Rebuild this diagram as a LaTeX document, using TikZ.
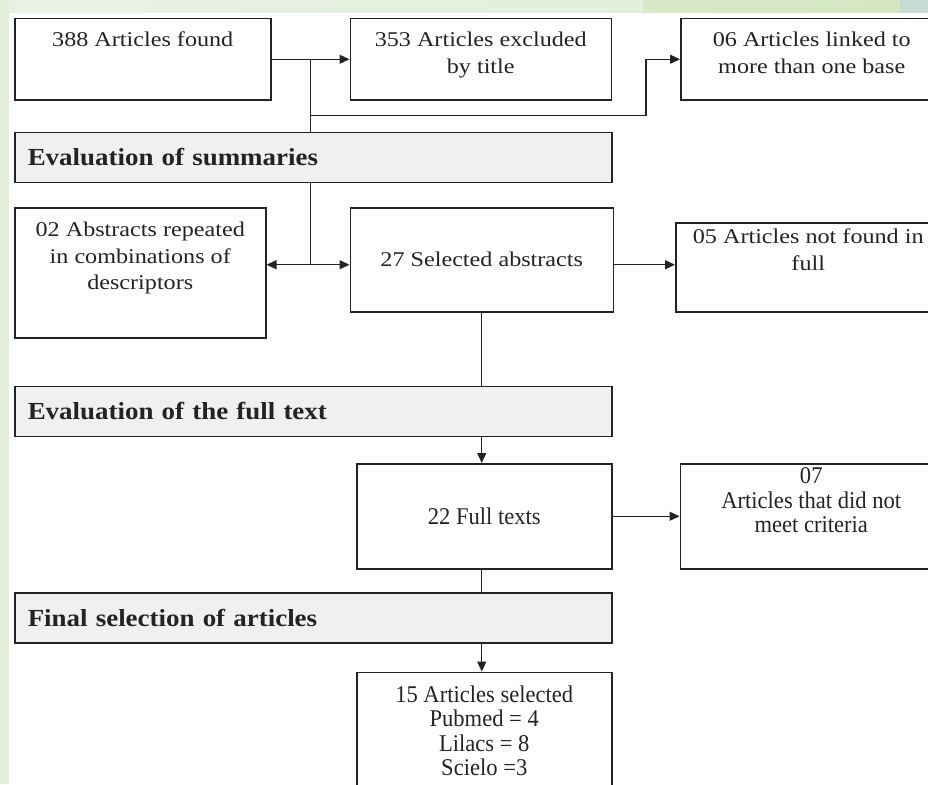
\documentclass[tikz,border=0pt]{standalone}
\usepackage{fontspec}
\setmainfont{Liberation Serif}
\newfontfamily\boxfont[FakeStretch=1.15]{Liberation Serif}
\newfontfamily\barfont[FakeStretch=1.1]{Liberation Serif}
\newfontfamily\lowfont[FakeStretch=0.94]{Liberation Serif}
\usepackage{tikz}
\usetikzlibrary{arrows.meta, positioning, calc}

\definecolor{bgleft}{RGB}{228,239,220}
\definecolor{bgtop}{RGB}{233,241,227}
\definecolor{topgreen}{RGB}{212,231,194}
\definecolor{topblue}{RGB}{197,219,212}
\definecolor{barfill}{RGB}{240,240,240}
\definecolor{linec}{RGB}{35,35,35}

% text sitting at the top of a box: width, height, first baseline, lines
\newcommand{\toptext}[4]{\parbox[c][#2][t]{#1}{\centering\rule{0pt}{#3}#4}}

\begin{document}
\begin{tikzpicture}[
    x=1pt, y=-1pt,
    color=linec, line width=1.3pt,
    >={Triangle[length=10pt,width=9pt]},
    box/.style={rectangle, draw, line width=1.5pt, inner sep=0pt,
        font=\boxfont\fontsize{21pt}{26.5pt}\selectfont},
    lowbox/.style={rectangle, draw, line width=1.5pt, inner sep=0pt,
        font=\lowfont\fontsize{24pt}{24.5pt}\selectfont},
    bar/.style={rectangle, draw, line width=1.5pt, fill=barfill,
        minimum width=597pt, minimum height=50pt, text width=571pt,
        inner xsep=13pt, align=left,
        font=\barfont\bfseries\fontsize{24.5pt}{28pt}\selectfont}
]
\useasboundingbox (0,0) rectangle (928,784);
% Background
\fill[bgleft] (0,0) rectangle (9,784);
\shade[left color=bgtop, right color=bgleft] (9,0) rectangle (643,13);
\shade[left color=topgreen!80!bgtop, right color=topgreen] (643,0) rectangle (900,13);
\fill[topblue] (900,0) rectangle (928,13);

% Nodes
\node [box, anchor=north west] (found) at (14,18) {\toptext{256pt}{81pt}{28pt}{388 Articles found}};
\node [box, right=78pt of found] (excl) {\toptext{261pt}{81pt}{28pt}{353 Articles excluded\\by title}};
\node [box, right=68pt of excl] (linked) {\toptext{262pt}{81pt}{28pt}{06 Articles linked to\\more than one base}};
\node [bar, below=31pt of found.south west, anchor=north west] (summ) {Evaluation of summaries};
\node [box, below=24pt of summ.south west, anchor=north west] (repeat) {\toptext{251pt}{130pt}{29pt}{02 Abstracts repeated\\in combinations of\\descriptors}};
\node [box, right=83pt of repeat.north east, anchor=north west, minimum width=263pt, minimum height=104pt] (abstr) {27 Selected abstracts};
\node [box, right=61pt of abstr.south east, anchor=south west] (notfound) {\toptext{265pt}{89pt}{21pt}{05 Articles not found in\\full}};
\node [bar, below=47pt of repeat.south west, anchor=north west] (fulleval) {Evaluation of the full text};
\node [lowbox, below=26pt of fulleval.south east, anchor=north east, minimum width=255pt, minimum height=105pt] (fulltext) {22 Full texts};
\node [lowbox, right=67pt of fulltext] (unmet) {\toptext{262pt}{105pt}{20pt}{07\\Articles that did not\\meet criteria}};
\node [bar, below=155pt of fulleval.south west, anchor=north west] (finalsel) {Final selection of articles};
\node [lowbox, below=28pt of finalsel.south east, anchor=north east] (selected) {\toptext{255pt}{135pt}{30pt}{15 Articles selected\\Pubmed = 4\\Lilacs = 8\\Scielo =3}};

\coordinate (fork1) at ($(found.east)!0.5!(excl.west)$);
\coordinate (turn) at ($(excl.south east)!0.5!(linked.south west) + (0,15)$);
\coordinate (fork2) at ([yshift=-5pt]abstr.west -| fork1);

% Arrows
\draw[->] (found) -- (excl);
\draw (fork1) -- (fork1 |- summ.north);
\draw[->] (fork1 |- turn) -- (turn) |- (linked);
\draw (fork1 |- summ.south) -- (fork2);
\draw[<->] (fork2 -| repeat.east) -- (fork2 -| abstr.west);
\draw[->] (fork2 -| abstr.east) -- (fork2 -| notfound.west);
\draw (abstr.south) -- (abstr.south |- fulleval.north);
\draw[->] (abstr.south |- fulleval.south) -- (abstr.south |- fulltext.north);
\draw[->] (fulltext) -- (unmet);
\draw (abstr.south |- fulltext.south) -- (abstr.south |- finalsel.north);
\draw[->] (abstr.south |- finalsel.south) -- (abstr.south |- selected.north);
\end{tikzpicture}
\end{document}
